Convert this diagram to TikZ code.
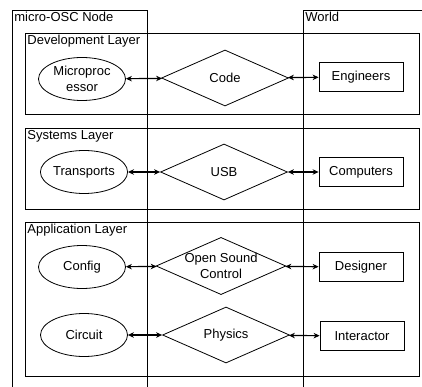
\documentclass[tikz,border=0pt]{standalone}
\usepackage{fontspec}
\setmainfont{Liberation Sans}
\usetikzlibrary{shapes.geometric,arrows.meta}

\begin{document}
\begin{tikzpicture}[x=1pt,y=-1pt,
	every node/.style={font=\fontsize{13}{15.5}\selectfont, inner sep=0pt, line width=0.8pt},
	frame/.style={draw, rectangle, anchor=north west},
	tag/.style={anchor=north west, inner sep=2pt},
	unit/.style={draw, ellipse, minimum width=87pt, minimum height=43pt, align=center},
	port/.style={draw, diamond, aspect=2.27, minimum width=127pt, minimum height=56pt, align=center},
	peer/.style={draw, rectangle, minimum width=84pt, minimum height=29pt},
	link/.style={{Stealth[length=6pt,width=5.5pt]}-{Stealth[length=6pt,width=5.5pt]}, line width=1.2pt}]
	
	\clip (0,0) rectangle (422,387);
	
	\node[frame, minimum width=135pt, minimum height=400pt] (n) at (12,10) {};
	\node[tag] (nt) at (12,10) {micro-OSC Node};
	\node[frame, minimum width=140pt, minimum height=400pt] (w) at (303,10) {};
	\node[tag] (wt) at (303,10) {World};
	
	\node[frame, minimum width=394pt, minimum height=81pt] (l1) at (25,33) {};
	\node[tag] (t1) at (25,33) {Development Layer};
	\node[frame, minimum width=394pt, minimum height=81pt] (l2) at (25,128) {};
	\node[tag] (t2) at (25,128) {Systems Layer};
	\node[frame, minimum width=394pt, minimum height=154pt] (l3) at (25,222) {};
	\node[tag] (t3) at (25,222) {Application Layer};
	
	\node[unit] (1) at (82,79) {Microproc\\essor};
	\node[unit] (2) at (84,172) {Transports};
	\node[unit] (3) at (82,267) {Config};
	\node[unit] (4) at (84,335) {Circuit};
	
	\node[port] (5) at (225,78) {Code};
	\node[port] (6) at (224,172) {USB};
	\node[port] (7) at (221,266) {Open Sound\\Control};
	\node[port] (8) at (226,335) {Physics};
	
	\node[peer] (9) at (361,77) {Engineers};
	\node[peer] (10) at (361,172) {Computers};
	\node[peer] (11) at (361,267) {Designer};
	\node[peer] (12) at (362,336) {Interactor};
	
	\path[link] (1) edge (5);
	\path[link] (2) edge (6);
	\path[link] (3) edge (7);
	\path[link] (4) edge (8);
	\path[link] (5) edge (9);
	\path[link] (6) edge (10);
	\path[link] (7) edge (11);
	\path[link] (8) edge (12);
	
\end{tikzpicture}
\end{document}
